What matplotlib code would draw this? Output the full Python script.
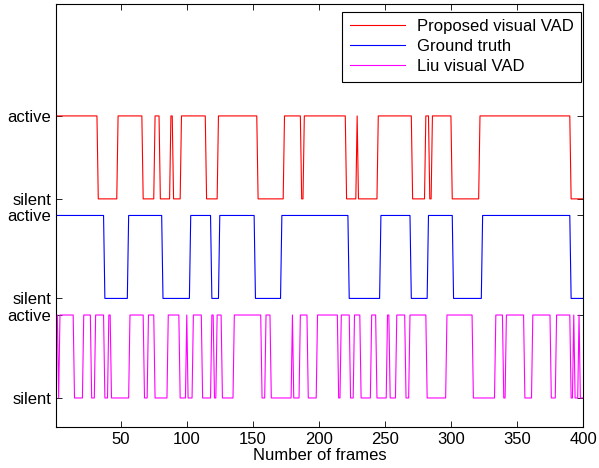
import numpy as np
import matplotlib
matplotlib.use("Agg")
import matplotlib.pyplot as plt

plt.rcParams['font.family'] = ['Liberation Sans', 'DejaVu Sans']

n_frames = 400

# active stretches (first frame, last frame), everything else is silent
proposed_active = [(1, 32), (48, 66), (76, 79), (88, 89), (96, 114), (124, 153),
                   (174, 186), (189, 220), (229, 229), (245, 270), (281, 283),
                   (286, 300), (322, 390)]
truth_active = [(1, 37), (56, 81), (103, 118), (125, 151), (172, 222),
                (247, 269), (283, 301), (324, 390)]
liu_active = [(1, 2), (4, 14), (22, 27), (31, 37), (41, 42), (57, 67), (71, 75),
              (86, 94), (100, 100), (105, 111), (119, 120), (123, 126),
              (136, 156), (160, 163), (180, 180), (186, 191), (199, 214),
              (217, 223), (227, 231), (240, 243), (252, 253), (259, 265),
              (269, 281), (297, 316), (334, 339), (342, 355), (362, 375),
              (380, 390), (393, 393), (397, 397)]

labels = ["Proposed visual VAD", "Ground truth", "Liu visual VAD"]
colors = ["red", "blue", "magenta"]
offsets = [2.4, 1.2, 0.0]


def to_signal(stretches):
    s = np.zeros(n_frames)
    for a, b in stretches:
        s[a - 1:b] = 1
    return s


frames = np.arange(1, n_frames + 1)

fig = plt.figure(figsize=(5.99, 4.68), dpi=100)
ax = fig.add_axes([0.0935, 0.0876, 0.8798, 0.904])

for stretches, lab, col, off in zip([proposed_active, truth_active, liu_active],
                                    labels, colors, offsets):
    ax.plot(frames, to_signal(stretches) + off, color=col, lw=0.8, label=lab)

ax.set_xlim(1, 400)
ax.set_ylim(-0.35, 4.75)
ax.set_xticks(range(50, 401, 50))
yt = []
ytl = []
for off in offsets[::-1]:
    yt += [off, off + 1]
    ytl += ["silent", "active"]
ax.set_yticks(yt)
ax.set_yticklabels(ytl)
ax.tick_params(direction="in", top=True, right=True, labelsize=12, length=4, width=0.6)
for sp in ax.spines.values():
    sp.set_linewidth(0.8)
ax.set_xlabel("Number of frames", fontsize=12, labelpad=1)

leg = ax.legend(loc="upper right", bbox_to_anchor=(0.996, 0.982), fontsize=12,
                handlelength=3.3, handletextpad=0.7, labelspacing=0.3, borderpad=0.45,
                borderaxespad=0, fancybox=False, framealpha=1, edgecolor="black")
leg.get_frame().set_linewidth(0.8)

fig.savefig("out.png", dpi=100)
